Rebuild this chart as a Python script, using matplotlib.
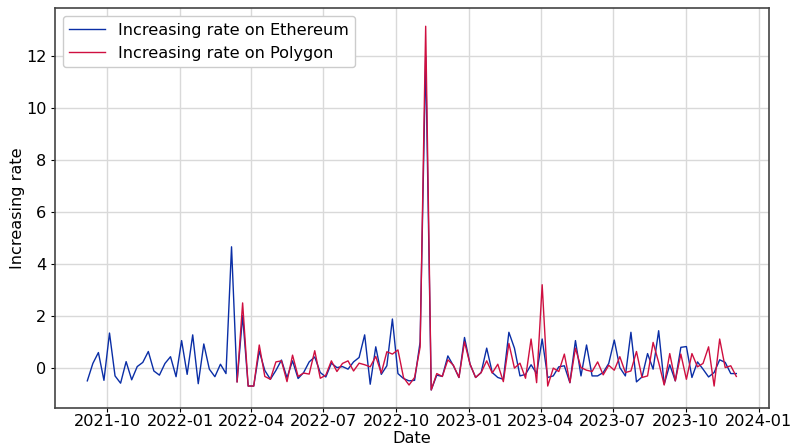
import matplotlib
matplotlib.use("Agg")
import matplotlib.pyplot as plt
import pandas as pd
import numpy as np

eth_start = "2021-09-06"
poly_start = "2022-03-14"

eth_values = [
    -0.50, 0.17, 0.59, -0.48, 1.34, -0.31, -0.59, 0.24, -0.46, 0.05,
    0.21, 0.63, -0.12, -0.28, 0.17, 0.43, -0.34, 1.05, -0.25, 1.27,
    -0.61, 0.92, -0.05, -0.34, 0.14, -0.22, 4.66, -0.54, 2.01, -0.70,
    -0.70, 0.65, -0.10, -0.44, -0.10, 0.30, -0.38, 0.27, -0.41, -0.18,
    0.23, 0.42, -0.18, -0.35, 0.18, 0.01, 0.05, -0.05, 0.23, 0.40,
    1.27, -0.63, 0.81, -0.25, 0.08, 1.88, -0.22, -0.41, -0.50, -0.48,
    1.00, 12.00, -0.85, -0.28, -0.33, 0.46, 0.08, -0.37, 1.17, 0.14,
    -0.37, -0.18, 0.76, -0.18, -0.37, -0.44, 1.37, 0.76, -0.31, -0.25,
    0.12, -0.22, 1.11, -0.37, -0.31, 0.04, 0.08, -0.57, 1.05, -0.31,
    0.88, -0.31, -0.31, -0.18, 0.17, 1.07, 0.01, -0.31, 1.37, -0.54,
    -0.35, 0.55, -0.05, 1.43, -0.63, 0.12, -0.50, 0.79, 0.82, -0.37,
    0.23, -0.05, -0.35, -0.18, 0.31, 0.21, -0.22, -0.22,
]

poly_values = [
    -0.54, 2.50, -0.70, -0.70, 0.88, -0.33, -0.44, 0.23, 0.27, -0.53,
    0.49, -0.33, -0.20, -0.24, 0.66, -0.40, -0.28, 0.27, -0.14, 0.17,
    0.27, -0.12, 0.18, 0.12, 0.04, 0.44, -0.20, 0.62, 0.53, 0.69,
    -0.37, -0.66, -0.37, 0.80, 13.15, -0.85, -0.22, -0.33, 0.31, 0.10,
    -0.37, 1.00, 0.14, -0.37, -0.18, 0.27, -0.20, 0.14, -0.53, 0.94,
    -0.01, 0.18, -0.40, 1.11, -0.57, 3.20, -0.70, -0.01, -0.14, 0.53,
    -0.57, 0.76, 0.01, -0.09, -0.14, 0.23, -0.27, 0.10, -0.09, 0.43,
    -0.18, -0.12, 0.63, -0.37, -0.31, 0.98, 0.21, -0.66, 0.55, -0.50,
    0.53, -0.44, 0.55, 0.04, 0.17, 0.81, -0.70, 1.11, 0.01, 0.08,
    -0.33,
]

eth_dates = pd.date_range(eth_start, periods=len(eth_values), freq="7D")
poly_dates = pd.date_range(poly_start, periods=len(poly_values), freq="7D")

fs = 11.6
fig, ax = plt.subplots(figsize=(7.95, 4.48), dpi=100)
fig.subplots_adjust(left=0.069, right=0.967, top=0.982, bottom=0.089)

ax.plot(eth_dates, eth_values, color="#0a2ea6", linewidth=1.0,
        label="Increasing rate on Ethereum")
ax.plot(poly_dates, poly_values, color="#cf0f40", linewidth=1.0,
        label="Increasing rate on Polygon")

ax.grid(True, color="#d9d9d9", linewidth=1.0)
ax.set_axisbelow(True)
for s in ax.spines.values():
    s.set_color("#444444")
    s.set_linewidth(1.2)

ax.tick_params(axis="x", labelsize=fs, length=3, pad=1.5)
ax.tick_params(axis="y", labelsize=fs, length=3, pad=3)
ax.set_xlabel("Date", fontsize=fs, labelpad=1)
ax.set_ylabel("Increasing rate", fontsize=fs, labelpad=1)
ax.legend(loc="upper left", fontsize=fs, frameon=True, framealpha=1,
          edgecolor="#cccccc", borderpad=0.4, handlelength=2.2)

fig.savefig("out.png", dpi=100)
